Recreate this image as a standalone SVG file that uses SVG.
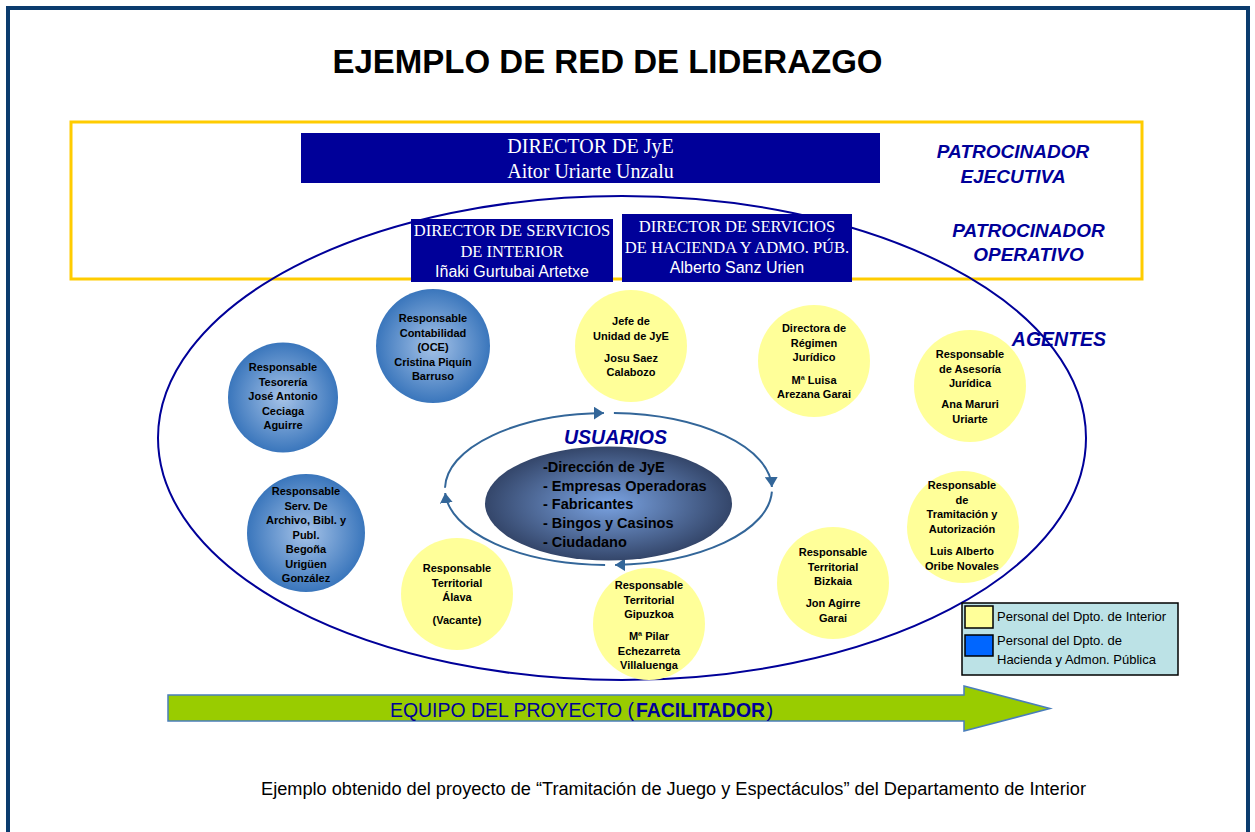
<svg xmlns="http://www.w3.org/2000/svg" width="1255" height="832" viewBox="0 0 1255 832">
<defs>
<style>
.ct{font-family:"Liberation Sans",Arial,sans-serif;font-weight:bold;font-size:11px;fill:#000;text-anchor:middle}
.lbl{font-family:"Liberation Sans",Arial,sans-serif;font-weight:bold;font-style:italic;fill:#000099;text-anchor:middle}
.dbox{fill:#000099}
.serif{font-family:"Liberation Serif","Times New Roman",serif;fill:#fff;text-anchor:middle}
.sw{font-family:"Liberation Sans",Arial,sans-serif;fill:#fff;text-anchor:middle;font-size:16px}
.yel{fill:#FFFF99}
.blu{fill:url(#gBlue)}
.cyc{fill:none;stroke:#336699;stroke-width:2;marker-end:url(#ah)}
.leg{font-family:"Liberation Sans",Arial,sans-serif;font-size:13px;fill:#000}
.usr{font-family:"Liberation Sans",Arial,sans-serif;font-weight:bold;font-size:14.5px;fill:#000}
.eq{font-family:"Liberation Sans",Arial,sans-serif;font-size:20px;fill:#000099}
</style>
<radialGradient id="gBlue" cx="50%" cy="50%" r="50%">
<stop offset="0" stop-color="#A6C3E8"/>
<stop offset="1" stop-color="#3A76BC"/>
</radialGradient>
<radialGradient id="gDark" cx="50%" cy="50%" r="50%">
<stop offset="0" stop-color="#7AA3E2"/>
<stop offset="1" stop-color="#34466A"/>
</radialGradient>
<marker id="ah" viewBox="0 0 10 13" refX="10" refY="6.5" markerWidth="10" markerHeight="13" markerUnits="userSpaceOnUse" orient="auto">
<path d="M0,0 L10,6.5 L0,13 z" fill="#336699"/>
</marker>
</defs>
<rect x="0" y="0" width="1255" height="832" fill="#fff"/>
<rect x="8" y="8" width="1240" height="840" fill="none" stroke="#0B3C6E" stroke-width="4"/>

<text x="607.5" y="73" font-family="'Liberation Sans',Arial,sans-serif" font-weight="bold" font-size="33" text-anchor="middle" fill="#000">EJEMPLO DE RED DE LIDERAZGO</text>

<rect x="71" y="122" width="1071" height="157" fill="none" stroke="#FFCC00" stroke-width="3"/>
<ellipse cx="622" cy="438" rx="464" ry="242" fill="none" stroke="#000099" stroke-width="2"/>

<g id="director-jye">
<rect class="dbox" x="301" y="133" width="579" height="50"/>
<text class="serif" x="590.5" y="153" font-size="20">DIRECTOR DE JyE</text>
<text class="serif" x="590.5" y="178" font-size="20">Aitor Uriarte Unzalu</text>
</g>
<g id="director-interior">
<rect class="dbox" x="411" y="219" width="202" height="63"/>
<text class="serif" x="512" y="236" font-size="16.5">DIRECTOR DE SERVICIOS</text>
<text class="serif" x="512" y="257" font-size="16.5">DE INTERIOR</text>
<text class="sw" x="512" y="277">Iñaki Gurtubai Artetxe</text>
</g>
<g id="director-hacienda">
<rect class="dbox" x="622" y="214" width="230" height="68"/>
<text class="serif" x="737" y="232" font-size="16.5">DIRECTOR DE SERVICIOS</text>
<text class="serif" x="737" y="253" font-size="16.5">DE HACIENDA Y ADMO. PÚB.</text>
<text class="sw" x="737" y="273">Alberto Sanz Urien</text>
</g>

<g id="labels">
<text class="lbl" x="1013" y="158" font-size="19">PATROCINADOR</text>
<text class="lbl" x="1013" y="183" font-size="19">EJECUTIVA</text>
<text class="lbl" x="1028.5" y="237" font-size="19">PATROCINADOR</text>
<text class="lbl" x="1028.5" y="261" font-size="19">OPERATIVO</text>
<text class="lbl" x="1059" y="346" font-size="19.5">AGENTES</text>
</g>

<g id="resp-contabilidad">
<circle class="blu" cx="433" cy="346" r="57"/>
<text class="ct" x="433" y="322">Responsable</text>
<text class="ct" x="433" y="336.5">Contabilidad</text>
<text class="ct" x="433" y="351">(OCE)</text>
<text class="ct" x="433" y="365.5">Cristina Piquín</text>
<text class="ct" x="433" y="380">Barruso</text>
</g>
<g id="resp-tesoreria">
<circle class="blu" cx="283" cy="397.5" r="55"/>
<text class="ct" x="283" y="371">Responsable</text>
<text class="ct" x="283" y="385.5">Tesorería</text>
<text class="ct" x="283" y="400">José Antonio</text>
<text class="ct" x="283" y="414.5">Ceciaga</text>
<text class="ct" x="283" y="429">Aguirre</text>
</g>
<g id="resp-archivo">
<circle class="blu" cx="306" cy="533" r="59"/>
<text class="ct" x="306" y="495">Responsable</text>
<text class="ct" x="306" y="509.5">Serv. De</text>
<text class="ct" x="306" y="524">Archivo, Bibl. y</text>
<text class="ct" x="306" y="538.5">Publ.</text>
<text class="ct" x="306" y="553">Begoña</text>
<text class="ct" x="306" y="567.5">Urigüen</text>
<text class="ct" x="306" y="582">González</text>
</g>

<g id="jefe-unidad">
<circle class="yel" cx="631" cy="346" r="56"/>
<text class="ct" x="631" y="325">Jefe de</text>
<text class="ct" x="631" y="340">Unidad de JyE</text>
<text class="ct" x="631" y="361.5">Josu Saez</text>
<text class="ct" x="631" y="376">Calabozo</text>
</g>
<g id="directora-regimen">
<circle class="yel" cx="814" cy="361" r="56"/>
<text class="ct" x="814" y="332">Directora de</text>
<text class="ct" x="814" y="346.5">Régimen</text>
<text class="ct" x="814" y="361">Jurídico</text>
<text class="ct" x="814" y="383.5">Mª Luisa</text>
<text class="ct" x="814" y="398">Arezana Garai</text>
</g>
<g id="resp-asesoria">
<circle class="yel" cx="970" cy="386" r="56"/>
<text class="ct" x="970" y="358">Responsable</text>
<text class="ct" x="970" y="372.5">de Asesoría</text>
<text class="ct" x="970" y="387">Jurídica</text>
<text class="ct" x="970" y="408">Ana Maruri</text>
<text class="ct" x="970" y="422.5">Uriarte</text>
</g>
<g id="resp-tramitacion">
<circle class="yel" cx="963" cy="527" r="56"/>
<text class="ct" x="962" y="489">Responsable</text>
<text class="ct" x="962" y="503.5">de</text>
<text class="ct" x="962" y="518">Tramitación y</text>
<text class="ct" x="962" y="532.5">Autorización</text>
<text class="ct" x="962" y="555">Luis Alberto</text>
<text class="ct" x="962" y="569.5">Oribe Novales</text>
</g>
<g id="resp-bizkaia">
<circle class="yel" cx="833" cy="583" r="56"/>
<text class="ct" x="833" y="556">Responsable</text>
<text class="ct" x="833" y="570.5">Territorial</text>
<text class="ct" x="833" y="585">Bizkaia</text>
<text class="ct" x="833" y="607">Jon Agirre</text>
<text class="ct" x="833" y="621.5">Garai</text>
</g>
<g id="resp-gipuzkoa">
<circle class="yel" cx="649" cy="624" r="56"/>
<text class="ct" x="649" y="589">Responsable</text>
<text class="ct" x="649" y="603.5">Territorial</text>
<text class="ct" x="649" y="618">Gipuzkoa</text>
<text class="ct" x="649" y="640">Mª Pilar</text>
<text class="ct" x="649" y="654.5">Echezarreta</text>
<text class="ct" x="649" y="669">Villaluenga</text>
</g>
<g id="resp-alava">
<circle class="yel" cx="457" cy="594" r="56"/>
<text class="ct" x="457" y="572">Responsable</text>
<text class="ct" x="457" y="586.5">Territorial</text>
<text class="ct" x="457" y="601">Álava</text>
<text class="ct" x="457" y="624">(Vacante)</text>
</g>

<g id="connectors">
<path class="cyc" d="M445,487.7 A163.5,76 0 0 1 603.9,413"/>
<path class="cyc" d="M613.9,413 A163.5,76 0 0 1 771.9,487"/>
<path class="cyc" d="M771.9,491.7 A163.5,76 0 0 1 615.1,564.9"/>
<path class="cyc" d="M605.1,565 A163.5,76 0 0 1 445.2,493"/>
</g>

<g id="usuarios">
<text class="lbl" x="615.5" y="444" font-size="19.5">USUARIOS</text>
<ellipse cx="608.5" cy="503.5" rx="123.5" ry="57" fill="url(#gDark)"/>
<text class="usr" x="543" y="472">-Dirección de JyE</text>
<text class="usr" x="543" y="490.5">- Empresas Operadoras</text>
<text class="usr" x="543" y="509">- Fabricantes</text>
<text class="usr" x="543" y="528">- Bingos y Casinos</text>
<text class="usr" x="543" y="547">- Ciudadano</text>
</g>

<g id="legend">
<rect x="962" y="603" width="216" height="72" fill="#BCE2E6" stroke="#000" stroke-width="1.5"/>
<rect x="965" y="606" width="28" height="22" fill="#FFFF99" stroke="#000" stroke-width="1.5"/>
<rect x="965" y="635" width="28" height="21" fill="#0066FF" stroke="#000" stroke-width="1.5"/>
<text class="leg" x="997" y="621">Personal del Dpto. de Interior</text>
<text class="leg" x="997" y="645">Personal del Dpto. de</text>
<text class="leg" x="997" y="664">Hacienda y Admon. Pública</text>
</g>

<g id="equipo-proyecto">
<polygon points="168,695 964,695 964,686 1050,708.5 964,731 964,721 168,721" fill="#99CC00" stroke="#4A7EBB" stroke-width="1.5"/>
<text class="eq" x="390" y="717" textLength="244" lengthAdjust="spacingAndGlyphs">EQUIPO DEL PROYECTO (</text>
<text class="eq" x="636" y="717" font-weight="bold" textLength="129" lengthAdjust="spacingAndGlyphs">FACILITADOR</text>
<text class="eq" x="766.5" y="717">)</text>
</g>

<text x="673.5" y="795" font-family="'Liberation Sans',Arial,sans-serif" font-size="18" fill="#000" text-anchor="middle" textLength="825" lengthAdjust="spacingAndGlyphs">Ejemplo obtenido del proyecto de “Tramitación de Juego y Espectáculos” del Departamento de Interior</text>
</svg>
